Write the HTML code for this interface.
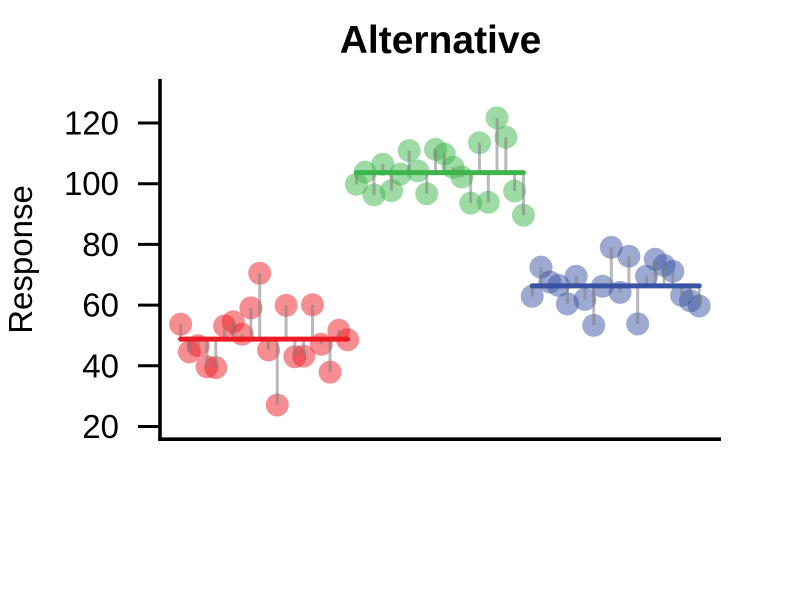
<!DOCTYPE html>
<html>
<head>
<meta charset="utf-8">
<title>Alternative</title>
<style>
html,body{margin:0;padding:0;background:#fff;width:800px;height:600px;overflow:hidden}
svg{display:block;font-family:"Liberation Sans",Arial,sans-serif}
</style>
</head>
<body>
<svg id="chart" xmlns="http://www.w3.org/2000/svg" width="800" height="600" viewBox="0 0 800 600">
  <rect x="0" y="0" width="800" height="600" fill="#ffffff"/>
  <text x="440.5" y="53" font-size="39" font-weight="bold" text-anchor="middle" fill="#000">Alternative</text>
  <text transform="translate(32,259.5) rotate(-90)" font-size="33" text-anchor="middle" fill="#000">Response</text>
  <g id="marks"></g>
  <g id="axes"></g>
</svg>
<script>
const redValues = [53.7,44.6,46.6,39.7,39.4,53.1,54.5,50.4,59.1,70.5,45.2,27.1,59.9,43.0,43.2,60.1,47.1,37.9,51.7,48.6];
const greenValues = [99.8,103.8,96.3,106.4,97.7,103.2,110.9,104.2,96.7,111.3,109.8,105.4,102.2,93.6,113.5,93.9,121.7,115.3,97.6,89.6];
const blueValues = [62.9,72.5,67.6,66.5,60.4,69.5,61.9,53.3,66.2,79.0,64.2,76.1,53.8,69.5,75.1,73.1,71.1,63.2,61.4,59.7];
const yTicks = [20,40,60,80,100,120];

const seriesList = [
  {name:'red', values:redValues, color:'#ed1c24'},
  {name:'green', values:greenValues, color:'#3cb54a'},
  {name:'blue', values:blueValues, color:'#3953a4'}
];

const NS = 'http://www.w3.org/2000/svg';
function xScale(i){ return 180.6 + 8.79 * i; }
function yScale(v){ return 426.5 - (v - 20) * 3.035; }
function mk(tag, attrs, parent){
  const el = document.createElementNS(NS, tag);
  for (const k in attrs) el.setAttribute(k, attrs[k]);
  parent.appendChild(el);
  return el;
}

const marks = document.getElementById('marks');
const axes = document.getElementById('axes');
let offset = 0;
seriesList.forEach(function(s){
  const mean = s.values.reduce(function(a,b){return a+b;},0) / s.values.length;
  const g = mk('g', {}, marks);
  
  
  s.values.forEach(function(v, i){
    const c = mk('circle', {cx:xScale(offset+i), cy:yScale(v), r:11.5, fill:s.color, 'fill-opacity':0.5}, g);
    
    
  });
  s.values.forEach(function(v, i){
    const st = mk('line', {x1:xScale(offset+i), x2:xScale(offset+i), y1:yScale(v), y2:yScale(mean), stroke:'#808080', 'stroke-opacity':0.55, 'stroke-width':3}, g);
    
    
  });
  const m = mk('line', {x1:xScale(offset), x2:xScale(offset+s.values.length-1), y1:yScale(mean), y2:yScale(mean), stroke:s.color, 'stroke-width':5, 'stroke-linecap':'round'}, g);
  
  
  offset += s.values.length;
});

const yAxis = mk('line', {x1:160, x2:160, y1:79, y2:441, stroke:'#000', 'stroke-width':3.6}, axes);


const xAxis = mk('line', {x1:158.2, x2:721, y1:439.2, y2:439.2, stroke:'#000', 'stroke-width':3.6}, axes);


yTicks.forEach(function(t){
  const y = yScale(t);
  const tick = mk('line', {x1:138, x2:160, y1:y, y2:y, stroke:'#000', 'stroke-width':3}, axes);
  
  
  const label = mk('text', {x:119, y:y + 11.5, 'font-size':33, 'text-anchor':'end', fill:'#000'}, axes);
  
  
  label.textContent = String(t);
});
</script>
</body>
</html>
